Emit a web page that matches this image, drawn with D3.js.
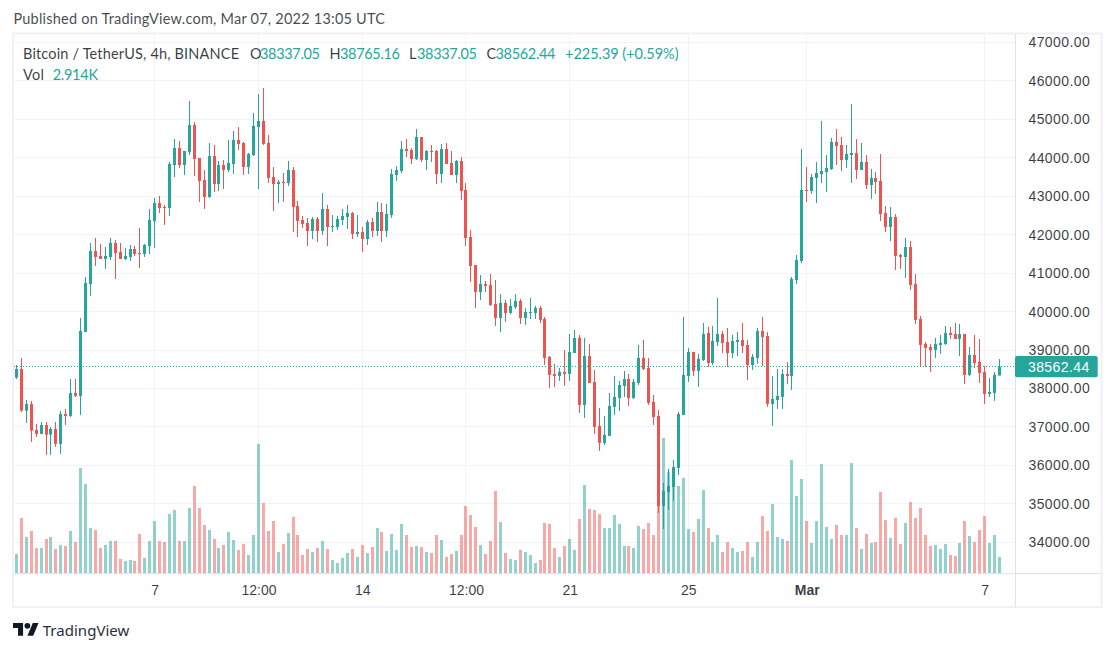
<!DOCTYPE html>
<html><head><meta charset="utf-8">
<script src="https://cdn.jsdelivr.net/npm/d3@7"></script>
<style>html,body{margin:0;padding:0;background:#fff}svg{display:block}</style>
</head><body><svg id="c" width="1115" height="652"></svg>
<script>
const open=[38283,38508,37424,37598,36922,36818,37052,36800,36948,36558,37338,37286,37884,37806,39470,40718,41576,41446,41368,41420,41784,41550,41368,41420,41628,41524,41498,41706,42356,42824,42720,42694,43812,44254,43812,44150,44852,43994,43422,42980,44046,43318,43812,43682,43838,44462,44384,43760,44072,44800,44956,44384,
43500,43318,43370,43344,43682,42746,42382,42304,42096,42408,42096,42668,42200,42200,42382,42460,42564,42018,42070,41888,42330,42096,42590,42096,42512,43552,43656,44228,44202,43968,44540,43942,44176,44176,43578,44228,43864,43552,43916,43162,41940,41212,40510,40718,40692,40198,39834,40224,39964,40120,40276,
39834,39964,39964,40094,39808,38820,38378,38326,38430,38378,38924,39314,37572,38846,38170,37026,36584,36766,37520,37754,38066,38248,37754,38144,38794,38534,37650,37286,34946,35310,35440,35934,37312,38326,38950,38456,38742,39444,38664,39210,39418,39210,38924,39210,39262,39132,38612,38794,
39496,39366,37598,37702,37780,38378,38326,40822,41316,43162,43136,43474,43578,43630,43708,44410,44332,43942,44072,44124,43682,43890,43292,43474,43396,42564,42200,42460,41472,41420,41680,40718,39808,39158,39080,39002,39132,39158,39444,39418,39288,39418,38352,38872,38690,38430,37858,37884,38337];
const high=[38612,38794,37702,37676,37078,37130,37130,37000,37130,37416,37468,38248,38248,39834,40900,41784,41914,41758,41680,41914,41862,41784,41654,41732,41706,42174,41758,42668,42954,43006,42772,43890,44488,44436,44176,45476,44930,43994,43682,44384,44332,43916,43942,44462,44696,44800,44410,44124,45164,45658,45814,44592,
43760,43422,43604,43916,43760,42876,42486,42434,42460,42460,43084,42772,42512,42486,42668,42772,42590,42512,42200,42382,42434,42850,42824,42798,43708,43786,44436,44488,44254,44748,44540,44202,44332,44202,44358,44384,44176,43942,44020,43344,42122,41212,40952,40796,40978,40822,40458,40302,40328,40458,40328,
40094,40354,40146,40146,39860,38846,38638,38534,39002,39418,39522,39392,39314,39158,38482,37494,37286,37884,38326,38196,38456,38378,38248,39132,39262,38794,37832,37442,35544,35908,36142,37390,39860,39054,38950,38898,39704,39600,39626,40354,39496,39574,39392,39470,39704,39262,38898,39574,
39860,39470,38326,38508,38508,38690,40900,41472,44228,43760,43578,43890,44956,44072,44514,44748,44540,44332,45398,44488,44384,44072,43708,43630,44098,42746,42720,42538,41498,41914,41836,40978,39886,39210,39158,39314,39392,39626,39600,39704,39678,39418,39080,39392,39288,38586,38274,38430,38765];
const low=[38248,37390,37104,36610,36740,36818,36272,36272,36480,36298,37052,37260,37780,37312,39470,40406,41186,41368,41108,41342,40848,41368,41342,41316,41446,41134,41420,41498,41654,42564,42252,42486,43500,43734,43552,44072,43526,42850,42668,42954,43110,43136,43188,43630,43578,44202,43552,43578,44046,43188,44332,43344,
42616,42824,42850,43266,42070,41940,42174,41706,41888,41810,41992,41706,42070,42122,42252,42148,41888,41940,41550,41732,41940,41966,41810,41940,42434,43396,43604,44020,43838,43942,43890,43682,43890,43318,43344,43838,43552,43344,42902,41706,40770,40094,40302,40510,40146,39626,39470,39730,39938,40068,39678,
39652,39808,39808,39704,38612,38014,38040,38196,38066,38196,38924,37364,37234,38144,36818,36376,36532,36766,37312,37416,37780,37546,37728,38092,38482,37572,37052,34764,34348,34842,35076,35752,37312,38170,38326,38040,38716,38560,38612,39106,38924,38560,38794,38846,38924,38222,38482,38638,
38586,37520,37026,37468,37468,38118,37962,40718,41264,42850,43058,42824,43344,43110,43682,43812,43656,43734,43344,43448,43682,43188,42928,43058,42356,42070,41836,41082,41108,40874,40562,39678,38560,38560,38430,38794,38898,39132,39288,39288,38846,38118,38326,38534,38144,37598,37780,37676,38337];
const close=[38508,37424,37598,36904,36818,37052,36800,36948,36558,37338,37286,37884,37806,39496,40744,41576,41420,41368,41446,41784,41524,41368,41446,41628,41498,41498,41732,42382,42824,42694,42694,43838,44254,43812,44176,44852,43968,43396,42980,44046,43318,43812,43682,43864,44462,44358,43760,44098,44826,44956,44358,43474,
43318,43370,43344,43682,42720,42356,42278,42096,42408,42096,42668,42200,42226,42408,42486,42564,42018,42070,41888,42330,42096,42590,42096,42538,43578,43682,44228,44176,43968,44540,43942,44176,44150,43578,44228,43838,43552,43916,43136,41914,41186,40510,40718,40666,40172,39834,40224,39964,40146,40276,39834,
39990,39990,40094,39782,38794,38352,38326,38430,38378,38950,39314,37572,38846,38144,37000,36584,36792,37546,37780,38092,38248,37754,38170,38794,38508,37624,37260,34946,35336,35466,35960,37338,38352,38950,38456,38768,39418,38664,39236,39418,39184,38924,39236,39262,39106,38612,38820,39496,
39340,37598,37728,37806,38378,38326,40848,41342,43162,43136,43500,43604,43656,43734,44410,44306,43942,44098,44124,43682,43890,43292,43474,43370,42538,42200,42460,41446,41420,41680,40692,39782,39132,39054,39002,39158,39184,39444,39392,39288,39418,38352,38872,38664,38404,37858,37910,38352,38562];
const volume=[3.45,9.88,6.49,7.56,4.52,4.52,6.13,6.49,4.34,5.06,4.88,7.56,5.59,18.80,15.95,8.09,7.74,4.52,5.06,5.77,5.77,2.56,2.20,2.38,2.20,7.02,2.74,5.77,9.34,5.77,5.59,10.59,11.31,5.77,5.77,11.66,15.59,11.66,8.63,7.74,6.13,4.52,5.06,7.38,5.95,4.17,5.24,3.27,6.84,23.09,12.55,7.56,9.34,3.81,5.24,7.20,10.06,6.84,3.27,4.34,3.81,4.52,5.77,4.34,
2.38,1.84,2.74,3.63,4.34,2.92,5.06,3.63,4.70,8.09,7.38,3.99,7.02,4.17,8.81,6.84,4.70,4.88,4.70,3.81,3.63,6.84,5.95,2.92,3.45,3.99,6.84,12.02,10.41,8.27,5.06,3.45,5.77,14.70,9.16,3.63,2.56,2.38,4.17,3.81,3.27,1.84,2.38,8.98,8.81,4.52,2.92,4.88,6.13,4.17,9.70,15.77,11.48,11.31,10.59,8.09,8.09,10.41,8.81,4.88,4.88,4.52,8.45,7.91,8.98,6.84,20.05,24.16,18.09,16.84,15.59,17.02,
7.91,7.38,9.70,14.88,8.09,5.59,6.84,3.81,5.59,4.52,3.81,3.99,5.59,2.92,5.59,10.23,7.56,12.38,6.49,6.13,5.77,20.23,13.80,16.84,9.34,5.41,9.34,19.52,8.27,6.13,8.63,6.84,6.84,19.69,8.09,4.34,7.02,5.41,5.59,14.52,9.52,6.31,9.88,5.24,8.98,12.73,9.88,11.66,6.84,4.88,5.06,4.34,5.24,3.27,3.09,5.41,9.34,6.66,5.59,7.74,10.23,5.41,6.84,2.914];
const priceTicks=[34000,35000,36000,37000,38000,39000,40000,41000,42000,43000,44000,45000,46000,47000];
const timeTickBars=[28,49,70,91,112,136,160,196];
const timeTickLabels=["7","12:00","14","12:00","21","25","Mar","7"];
const lastClose=38562.44;
const titleText="Published on TradingView.com, Mar 07, 2022 13:05 UTC";
const legendName="Bitcoin / TetherUS, 4h, BINANCE";
const legendKeys=["O","H","L","C"];
const legendVals=["38337.05","38765.16","38337.05","38562.44"];
const legendChange="+225.39 (+0.59%)";
const volLabel="Vol";
const volValue="2.914K";

const UP="#26a69a",DOWN="#ef5350",GRID="#f0f3fa",FRAME="#f0f0f6",AXIS="#e0e3eb",TXT="#131722";
const UI="Lato,'Noto Sans',sans-serif",NUM="'Liberation Sans',sans-serif";
const svg=d3.select("#c");
const x=d3.scaleLinear().domain([0,199]).range([16.4,999.46]);
const y=d3.scaleLinear().domain([34000,47000]).range([542.3,42.4]);
const v=d3.scaleLinear().domain([0,24.16]).range([573.3,438]);
const paneL=14,paneR=1015.5,paneT=34,paneB=573.5,frameR=1101.5,frameB=607;
const idx=d3.range(open.length);
const px=i=>Math.floor(x(i));
const col=i=>close[i]>=open[i]?UP:DOWN;

svg.append("rect").attr("x",13).attr("y",33.5).attr("width",frameR-13).attr("height",frameB-33.5)
  .attr("fill","#fff").attr("stroke",FRAME).attr("stroke-width",2);

const grid=svg.append("g").attr("stroke",GRID).attr("stroke-width",1);
grid.selectAll("line.h").data(priceTicks).join("line").attr("class","h")
  .attr("x1",paneL).attr("x2",paneR).attr("y1",d=>Math.floor(y(d))+.5).attr("y2",d=>Math.floor(y(d))+.5);
grid.selectAll("line.v").data(timeTickBars).join("line").attr("class","v")
  .attr("x1",d=>px(d)+.5).attr("x2",d=>px(d)+.5).attr("y1",paneT).attr("y2",paneB);

svg.append("g").selectAll("rect").data(idx).join("rect")
  .attr("x",i=>px(i)-1).attr("width",3)
  .attr("y",i=>v(volume[i])).attr("height",i=>v(0)-v(volume[i]))
  .attr("fill",col).attr("fill-opacity",.5);

const cg=svg.append("g").selectAll("g").data(idx).join("g");
cg.append("rect").attr("x",px).attr("width",1)
  .attr("y",i=>y(high[i])).attr("height",i=>y(low[i])-y(high[i])).attr("fill",col);
cg.append("rect").attr("x",i=>px(i)-1).attr("width",3)
  .attr("y",i=>y(Math.max(open[i],close[i])))
  .attr("height",i=>Math.max(1,Math.abs(y(open[i])-y(close[i])))).attr("fill",col);

const ly=Math.floor(y(lastClose))+.5;
svg.append("line").attr("x1",paneL).attr("x2",paneR).attr("y1",ly).attr("y2",ly)
  .attr("stroke",UP).attr("stroke-width",1).attr("stroke-dasharray","1 2").attr("shape-rendering","crispEdges");

svg.append("line").attr("x1",paneR).attr("x2",paneR).attr("y1",paneT).attr("y2",frameB).attr("stroke",AXIS);
svg.append("line").attr("x1",paneL).attr("x2",frameR).attr("y1",paneB).attr("y2",paneB).attr("stroke",AXIS);

const ya=svg.append("g").attr("transform",`translate(${paneR},0)`)
  .call(d3.axisRight(y).tickValues(priceTicks).tickSize(0).tickPadding(13).tickFormat(d3.format(".2f")));
ya.select(".domain").remove();
ya.selectAll("text").attr("fill",TXT).attr("fill-opacity",.85).style("font-family",NUM).style("font-size","14px").style("letter-spacing","0.4px");

const ta=svg.append("g").attr("transform",`translate(0,${paneB})`)
  .call(d3.axisBottom(x).tickValues(timeTickBars).tickSize(0).tickPadding(12)
    .tickFormat(d=>timeTickLabels[timeTickBars.indexOf(d)]));
ta.select(".domain").remove();
ta.selectAll("text").attr("fill",TXT).attr("fill-opacity",.85).style("font-family",NUM).style("font-size","14px")
  .style("font-weight",d=>timeTickLabels[timeTickBars.indexOf(d)]==="Mar"?"700":"400");

const tag=svg.append("g");
tag.append("rect").attr("x",1015).attr("y",356).attr("width",82.7).attr("height",21.3).attr("rx",2).attr("fill",UP);
tag.append("text").attr("x",1089.6).attr("y",371.8).attr("text-anchor","end").attr("fill","#fff")
  .style("font-family",NUM).style("font-size","14px").style("letter-spacing","0.4px").text(d3.format(".2f")(lastClose));

function label(s,lx,ly,w,fill,op){
  return svg.append("text").attr("x",lx).attr("y",ly).attr("fill",fill).attr("fill-opacity",op)
    .attr("textLength",w).attr("lengthAdjust","spacing")
    .style("font-family",UI).style("font-size","14.5px").text(s);
}
label(titleText,13.4,24,371.6,"#131722",.8);
label(legendName,23,59,216,TXT,.85);
[250,329.5,409,486.6].forEach((lx,i)=>label(legendKeys[i],lx,59,i===0?10:i===1?9.5:i===2?7:8,TXT,.85));
[260,340,417,495.5].forEach((lx,i)=>label(legendVals[i],lx,59,60,UP,1));
label(legendChange,565,59,113.5,UP,1);
label(volLabel,23,80,21,TXT,.85);
label(volValue,52.7,80,45.3,UP,1);

const logo=svg.append("g").attr("transform","translate(13,620) scale(0.72)").attr("fill","#131722");
logo.append("path").attr("d","M14 22H7V11H0V4h14v18zM28 22h-8l7.5-18h8L28 22z");
logo.append("circle").attr("cx",20).attr("cy",8).attr("r",4);
svg.append("text").attr("x",42.7).attr("y",635.5).attr("fill","#2a2e39").attr("textLength",86.6)
  .style("font-family","'Noto Sans',sans-serif").style("font-size","15px").text("TradingView");
</script></body></html>
